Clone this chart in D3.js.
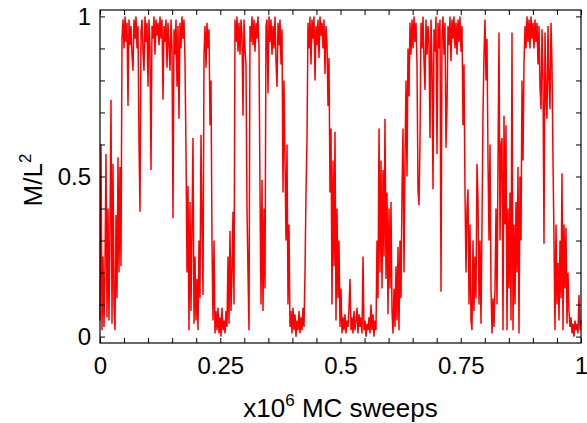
<!DOCTYPE html>
<html>
<head>
<meta charset="utf-8">
<script src="https://cdn.jsdelivr.net/npm/d3@7"></script>
<style>
  body { margin: 0; background: #fff; }
  text { font-family: "Liberation Sans", Arial, sans-serif; fill: #000; }
</style>
</head>
<body>
<svg id="chart" width="587" height="423"></svg>
<script>
// M/L^2, one sample per pixel column, in six runs
const runA = [0.05,0.60,0.02,0.25,0.03,0.22,0.57,0.06,0.40,0.05,0.35,0.74,0.04,0.54,0.10,0.02,0.38,0.12,0.56,0.20,
  0.53,0.22,0.93,0.99,0.90,1.00,0.92,0.98,0.72,0.99,0.91,0.97,0.88,0.83,0.99,0.93,1.00,0.90,0.97,0.61,
  0.39,0.95,0.99,0.89,0.83,1.00,0.92,0.98,0.78,0.99,0.90,0.52,0.97,0.93,1.00,0.88,0.99,0.94,0.98,0.91,
  1.00,0.93,0.99,0.74,0.97,0.92,0.99,0.84,0.98,0.91,0.83,0.99,0.90,0.37,0.96,0.88,0.99,0.78,0.97,0.68];
const runB = [0.98,0.90,1.00,0.93,0.99,0.86,0.58,0.20,0.47,0.02,0.42,0.08,0.35,0.62,0.04,0.25,0.05,0.18,0.02,0.30,
  0.12,0.63,0.35,0.13,0.88,0.97,0.84,0.98,0.90,0.96,0.66,0.80,0.29,0.05,0.30,0.01,0.08,0.02,0.09,0.01,
  0.06,0.00,0.09,0.02,0.05,0.01,0.08,0.03,0.25,0.04,0.33,0.08,0.20,0.39,0.10,0.99,0.92,1.00,0.89,0.98,
  0.88,0.99,0.94,0.69,0.99,0.90,0.85,0.40,0.20,0.02,0.97,0.92,1.00,0.91,0.99,0.89,0.98,0.93,1.00,0.90];
const runC = [0.45,0.10,0.49,0.08,0.40,0.15,0.97,0.99,0.76,1.00,0.92,0.99,0.88,0.97,0.90,1.00,0.86,0.78,0.98,0.91,
  0.99,0.85,0.96,0.45,0.80,0.55,0.30,0.60,0.10,0.35,0.03,0.08,0.01,0.09,0.02,0.07,0.00,0.05,0.02,0.08,
  0.01,0.06,0.02,0.09,0.03,0.20,0.45,0.62,0.98,0.90,1.00,0.85,0.99,0.93,1.00,0.80,0.97,0.91,0.99,0.87,
  1.00,0.94,0.98,0.90,0.99,0.82,0.97,0.92,0.72,0.87,0.45,0.65,0.10,0.55,0.22,0.64,0.05,0.40,0.12,0.30];
const runD = [0.03,0.15,0.01,0.06,0.02,0.07,0.01,0.05,0.03,0.09,0.18,0.02,0.06,0.01,0.08,0.02,0.05,0.09,0.01,0.07,
  0.03,0.06,0.01,0.25,0.02,0.05,0.00,0.04,0.02,0.06,0.01,0.10,0.02,0.07,0.00,0.05,0.02,0.30,0.12,0.65,
  0.20,0.55,0.15,0.52,0.25,0.68,0.18,0.45,0.07,0.40,0.15,0.42,0.08,0.01,0.15,0.03,0.22,0.05,0.28,0.02,
  0.30,0.12,0.45,0.65,0.20,0.55,0.80,0.50,0.90,0.75,0.98,0.88,0.99,0.90,1.00,0.92,0.98,0.85,0.46,0.41];
const runE = [0.61,0.98,0.90,1.00,0.86,0.77,0.99,0.88,0.97,0.92,0.62,0.99,0.85,0.46,0.96,0.89,1.00,0.57,0.98,0.90,
  0.99,0.14,0.93,1.00,0.88,0.98,0.59,0.72,0.97,0.91,1.00,0.86,0.99,0.93,1.00,0.90,0.98,0.88,0.99,0.92,
  1.00,0.89,0.97,0.66,0.85,0.45,0.20,0.40,0.46,0.10,0.35,0.05,0.02,0.30,0.08,0.25,0.12,0.54,0.43,0.10,
  0.30,0.04,0.35,0.70,0.88,0.99,0.80,0.93,0.55,0.30,0.60,0.15,0.01,0.12,0.03,0.15,0.40,0.10,0.55,0.95];
const runF = [0.30,0.60,0.62,0.02,0.69,0.35,0.66,0.02,0.40,0.15,0.45,0.05,0.95,0.02,0.35,0.10,0.42,0.20,0.53,0.01,
  0.50,0.30,0.80,0.55,0.85,0.97,0.90,1.00,0.92,0.99,0.90,1.00,0.93,0.98,0.90,0.99,0.92,0.98,0.85,0.97,
  0.78,0.71,0.96,0.80,0.29,0.95,0.75,0.68,0.97,0.80,0.71,0.98,0.85,0.55,0.30,0.02,0.35,0.10,0.23,0.05,
  0.30,0.12,0.51,0.02,0.35,0.15,0.34,0.04,0.20,0.08,0.03,0.06,0.01,0.04,0.00,0.05,0.02,0.04,0.01,0.13,
  0.02,0.05];

const magnetization = [].concat(runA, runB, runC, runD, runE, runF);
const xMajor = [0, 0.25, 0.5, 0.75, 1];
const xMinor = d3.range(0, 21).map(i => i / 20);
const yMajor = [0, 0.5, 1];
const yMinor = d3.range(0, 11).map(i => i / 10);

const svg = d3.select("#chart");
const mLeft = 100, mRight = 581, mTop = 10, mBottom = 343;

const x = d3.scaleLinear().domain([0, 1]).range([mLeft, mRight]);
const y = d3.scaleLinear().domain([-0.02, 1.02]).range([mBottom, mTop]);

const fmt = d => (xMajor.includes(d) ? String(d) : "");
const fmtY = d => (yMajor.includes(d) ? String(d) : "");

// trace
const line = d3.line()
  .x((d, i) => x(i / (magnetization.length - 1)))
  .y(d => y(d));
svg.append("path")
  .datum(magnetization)
  .attr("d", line)
  .attr("fill", "none")
  .attr("stroke", "#ff0000")
  .attr("stroke-width", 1.5)
  .attr("stroke-linejoin", "bevel");

function styleAxis(g, size) {
  g.select(".domain").remove();
  g.selectAll(".tick line").attr("stroke", "#000");
  g.selectAll(".tick text").attr("font-size", size);
}

svg.append("g")
  .attr("transform", `translate(0,${mBottom})`)
  .call(d3.axisBottom(x).tickValues(xMinor).tickFormat(fmt).tickSizeInner(-5).tickPadding(14))
  .call(g => styleAxis(g, 24));
svg.append("g")
  .attr("transform", `translate(0,${mTop})`)
  .call(d3.axisTop(x).tickValues(xMinor).tickFormat("").tickSizeInner(-5))
  .call(g => styleAxis(g, 0));
svg.append("g")
  .attr("transform", `translate(${mLeft},0)`)
  .call(d3.axisLeft(y).tickValues(yMinor).tickFormat(fmtY).tickSizeInner(-5).tickPadding(9))
  .call(g => styleAxis(g, 24));
svg.append("g")
  .attr("transform", `translate(${mRight},0)`)
  .call(d3.axisRight(y).tickValues(yMinor).tickFormat("").tickSizeInner(-5))
  .call(g => styleAxis(g, 0));

svg.append("rect")
  .attr("x", mLeft).attr("y", mTop)
  .attr("width", mRight - mLeft).attr("height", mBottom - mTop)
  .attr("fill", "none").attr("stroke", "#000").attr("stroke-width", 1.2);

// axis titles
const xt = svg.append("text")
  .attr("x", (mLeft + mRight) / 2).attr("y", 417)
  .attr("text-anchor", "middle").attr("font-size", 26);
xt.append("tspan").text("x10");
xt.append("tspan").attr("font-size", 17).attr("dy", -11).text("6");
xt.append("tspan").attr("dy", 11).text(" MC sweeps");

const yt = svg.append("text")
  .attr("transform", "translate(42,180) rotate(-90)")
  .attr("text-anchor", "middle").attr("font-size", 26);
yt.append("tspan").text("M/L");
yt.append("tspan").attr("font-size", 17).attr("dy", -11).text("2");
</script>
</body>
</html>
